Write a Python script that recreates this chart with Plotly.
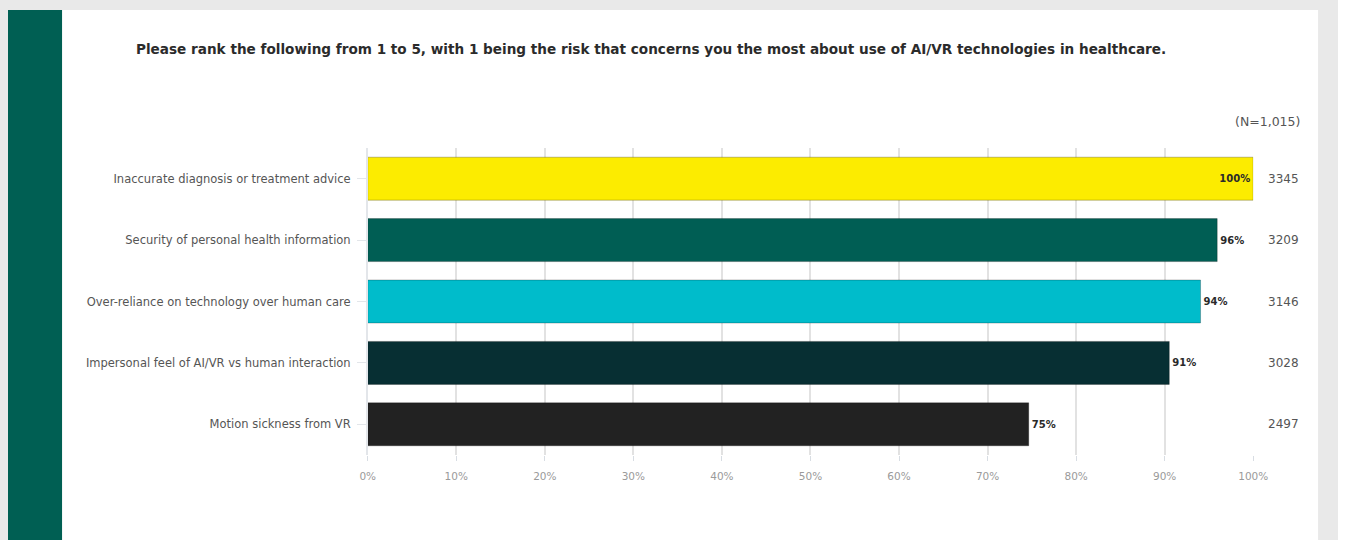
import plotly.graph_objects as go

# Survey data (N=1,015): total ranking scores per risk
categories = [
    "Inaccurate diagnosis or treatment advice",
    "Security of personal health information",
    "Over-reliance on technology over human care",
    "Impersonal feel of AI/VR vs human interaction",
    "Motion sickness from VR",
]
scores = [3345, 3209, 3146, 3028, 2497]
bar_colors = ["#fcec00", "#005e54", "#00bccb", "#072f33", "#222222"]
x_ticks = [0, 10, 20, 30, 40, 50, 60, 70, 80, 90, 100]
x_tick_labels = [f"{t}%" for t in x_ticks]

# The page keeps its default 8px left body margin, so the figure is made
# 8px narrower than the 1346px window to avoid horizontal overflow.
LEFT_MARGIN = 8
WIN_W, WIN_H = 1346, 540
W, H = WIN_W - LEFT_MARGIN, WIN_H


def px(x):
    """Window x pixel -> paper fraction."""
    return min(max((x - LEFT_MARGIN) / W, 0), 1)


def py(y):
    """Pixel from the top of the figure -> paper fraction."""
    return min(max(1 - y / H, 0), 1)


top_score = max(scores)
pct = [s / top_score * 100 for s in scores]
pct_labels = [f"{round(p)}%" for p in pct]

FONT = "DejaVu Sans"

fig = go.Figure()
fig.add_trace(go.Bar(
    y=categories,
    x=pct,
    orientation="h",
    marker=dict(color=bar_colors, line=dict(color="rgba(0,0,0,0.25)", width=1)),
    width=0.7,
    text=pct_labels,
    textposition=["inside"] + ["outside"] * (len(pct) - 1),
    insidetextanchor="end",
    textfont=dict(family=FONT, size=10, color="#2a2a2a", weight="bold"),
    cliponaxis=False,
    hoverinfo="skip",
))

shapes = [
    # white content panel
    dict(type="rect", xref="paper", yref="paper", x0=px(63), x1=px(1341),
         y0=0, y1=py(10), fillcolor="#ffffff", line=dict(width=0), layer="below"),
    # green side band
    dict(type="rect", xref="paper", yref="paper", x0=px(5), x1=px(63),
         y0=0, y1=py(10), fillcolor="#005f53", line=dict(width=0), layer="below"),
]

annotations = [
    dict(text="Please rank the following from 1 to 5, with 1 being the risk that concerns you the most about use of AI/VR technologies in healthcare.",
         xref="paper", yref="paper", x=px(136), y=py(49), xanchor="left", yanchor="middle",
         showarrow=False, font=dict(family=FONT, size=13.6, color="#2b2b2b", weight="bold")),
    dict(text="(N=1,015)", xref="paper", yref="paper", x=px(1325), y=py(121),
         xanchor="right", yanchor="middle", showarrow=False,
         font=dict(family=FONT, size=12.5, color="#555555")),
]
for cat, s in zip(categories, scores):
    annotations.append(dict(text=str(s), xref="paper", yref="y", x=px(1324), y=cat,
                            xanchor="right", yanchor="middle", showarrow=False,
                            font=dict(family=FONT, size=12, color="#555555")))

fig.update_layout(
    width=W, height=H,
    autosize=False,
    margin=dict(l=0, r=0, t=0, b=0),
    paper_bgcolor="#e9e9e9",
    plot_bgcolor="rgba(0,0,0,0)",
    showlegend=False,
    shapes=shapes,
    annotations=annotations,
    xaxis=dict(
        domain=[px(374), px(1275)],
        range=[0, 100],
        tickvals=x_ticks, ticktext=x_tick_labels,
        showgrid=True, gridcolor="#e2e2e2", gridwidth=1.5,
        zeroline=False,
        ticks="outside", ticklen=5, tickcolor="#d8dde3",
        tickfont=dict(family=FONT, size=10.5, color="#9a9a9a"),
        ticklabelstandoff=6,
        showline=False,
        fixedrange=True,
    ),
    yaxis=dict(
        domain=[py(455), py(148)],
        categoryorder="array", categoryarray=categories,
        autorange="reversed",
        ticks="outside", ticklen=9, tickcolor="#e3e6ea",
        tickfont=dict(family=FONT, size=11.5, color="#555555"),
        showline=True, linecolor="#e3e6ea", linewidth=1.5,
        showgrid=False,
        ticklabelstandoff=4,
        fixedrange=True,
    ),
    bargap=0.3,
)

fig.write_html("out.html", config={"responsive": False})
